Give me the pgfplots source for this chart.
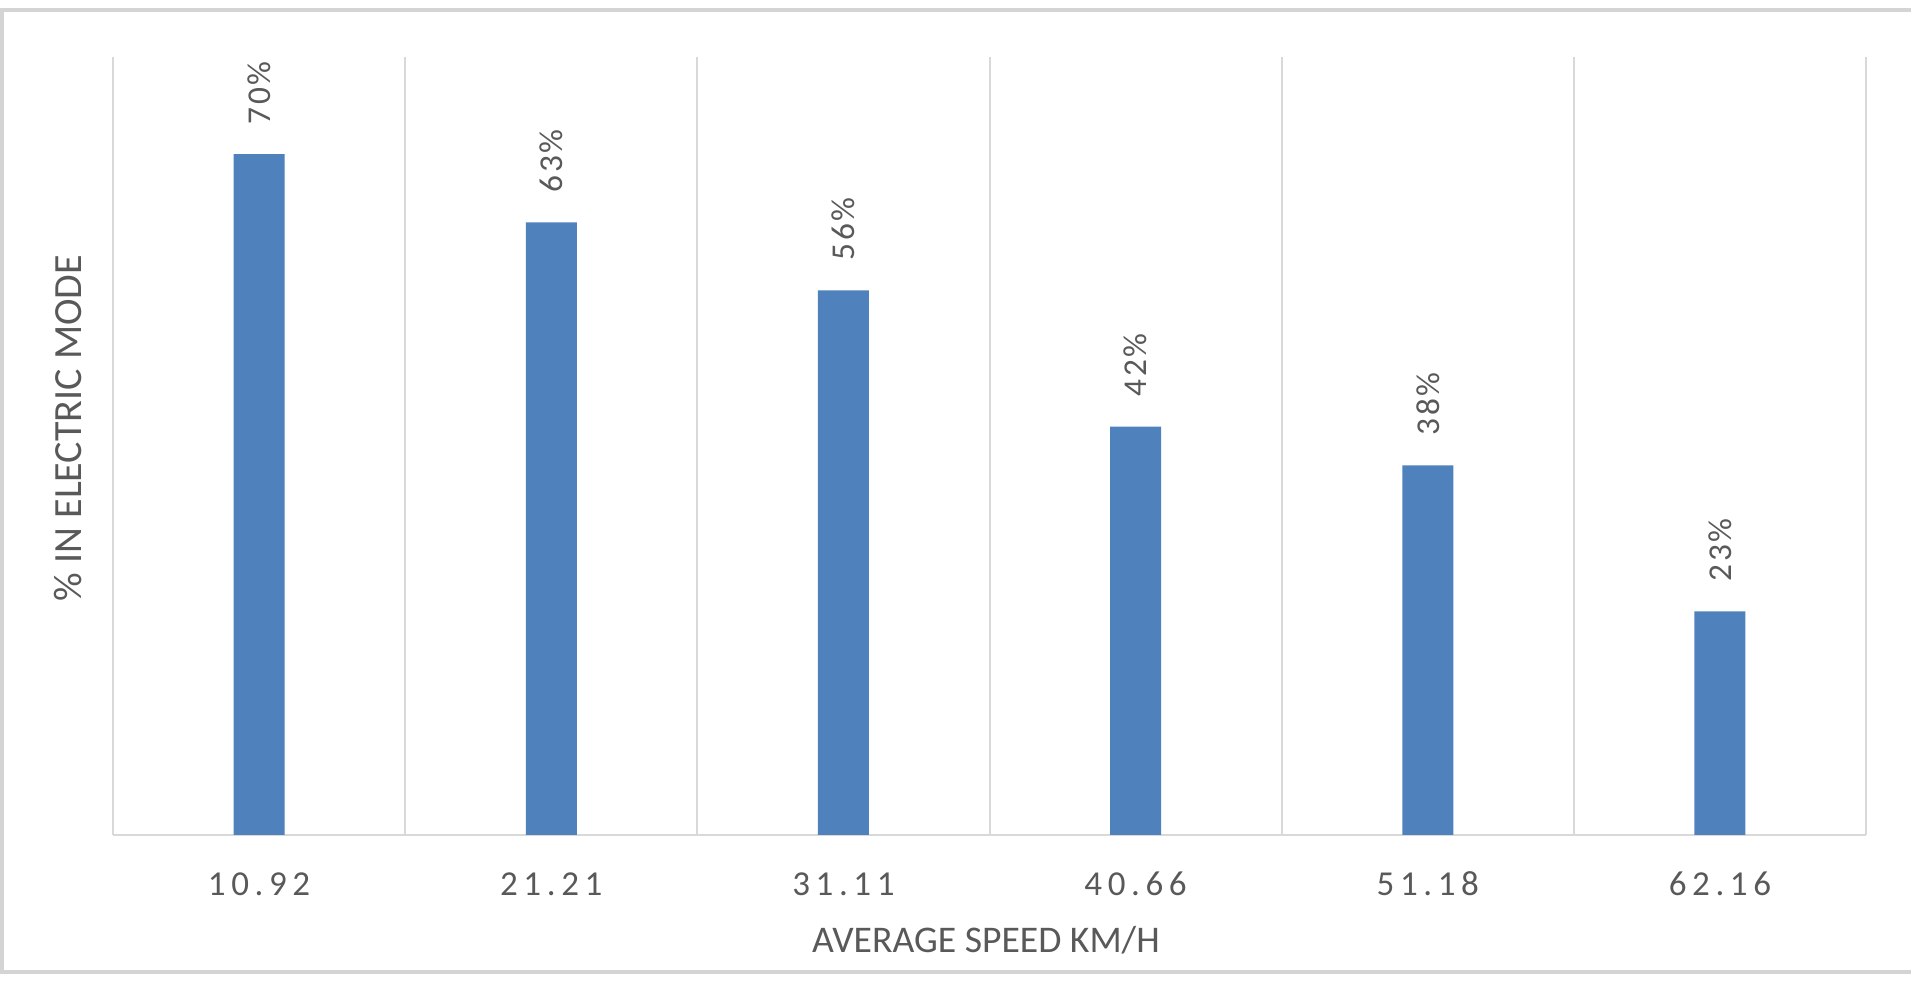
\documentclass[border=0pt]{standalone}
\usepackage{fontspec}
\usepackage{pgfplots}
\pgfplotsset{compat=1.18}
\setmainfont{Carlito}
\newfontfamily\tickfont[LetterSpace=16]{Carlito}
\newfontfamily\labfont[LetterSpace=8]{Carlito}

\definecolor{barblue}{HTML}{4F81BD}
\definecolor{txtgray}{HTML}{595959}
\definecolor{gridgray}{HTML}{D9D9D9}
\definecolor{framegray}{HTML}{D4D4D4}

\begin{document}
\begin{tikzpicture}
% chart frame (1 px = 0.3pt)
\useasboundingbox (0pt,0pt) rectangle (573.3pt,294.3pt);
\draw[framegray, line width=1.2pt] (573.3pt,291.3pt) -- (0.6pt,291.3pt) -- (0.6pt,2.7pt) -- (573.3pt,2.7pt);
\begin{axis}[
  at={(33.9pt,43.8pt)}, anchor=south west,
  scale only axis,
  width=525.9pt, height=233.4pt,
  xmin=-0.5, xmax=5.5, ymin=0, ymax=80,
  xtick={0,1,2,3,4,5},
  xticklabels={10.92,21.21,31.11,40.66,51.18,62.16},
  minor xtick={-0.5,0.5,1.5,2.5,3.5,4.5,5.5},
  xminorgrids,
  minor grid style={gridgray, line width=0.6pt},
  major tick length=0pt, minor tick length=0pt,
  ytick=\empty,
  axis x line*=bottom, axis y line*=left,
  x axis line style={gridgray, line width=0.6pt},
  y axis line style={draw=none},
  xticklabel style={anchor=center, yshift=-14.7pt, font=\tickfont\fontsize{10.5}{12}\selectfont, text=txtgray},
  xlabel={AVERAGE SPEED KM/H},
  ylabel={\% IN ELECTRIC MODE},
  xlabel style={at={(axis description cs:0.498,-0.135)}, anchor=center, font=\fontsize{11.3}{13}\selectfont, text=txtgray},
  ylabel style={at={(axis description cs:-0.0257,0.523)}, anchor=center, font=\fontsize{12}{14}\selectfont, text=txtgray},
  ybar, bar width=15.3pt,
  /pgf/number format/assume math mode=true,
  nodes near coords={\pgfmathprintnumber{\pgfplotspointmeta}\%},
  every node near coord/.append style={rotate=90, anchor=west, inner sep=0pt, outer xsep=9pt, font=\labfont\fontsize{10}{12}\selectfont, text=txtgray},
  clip=false,
]
\addplot[fill=barblue, draw=none] coordinates {
  (0,70) (1,63) (2,56) (3,42) (4,38) (5,23)
};
\end{axis}
\end{tikzpicture}
\end{document}
